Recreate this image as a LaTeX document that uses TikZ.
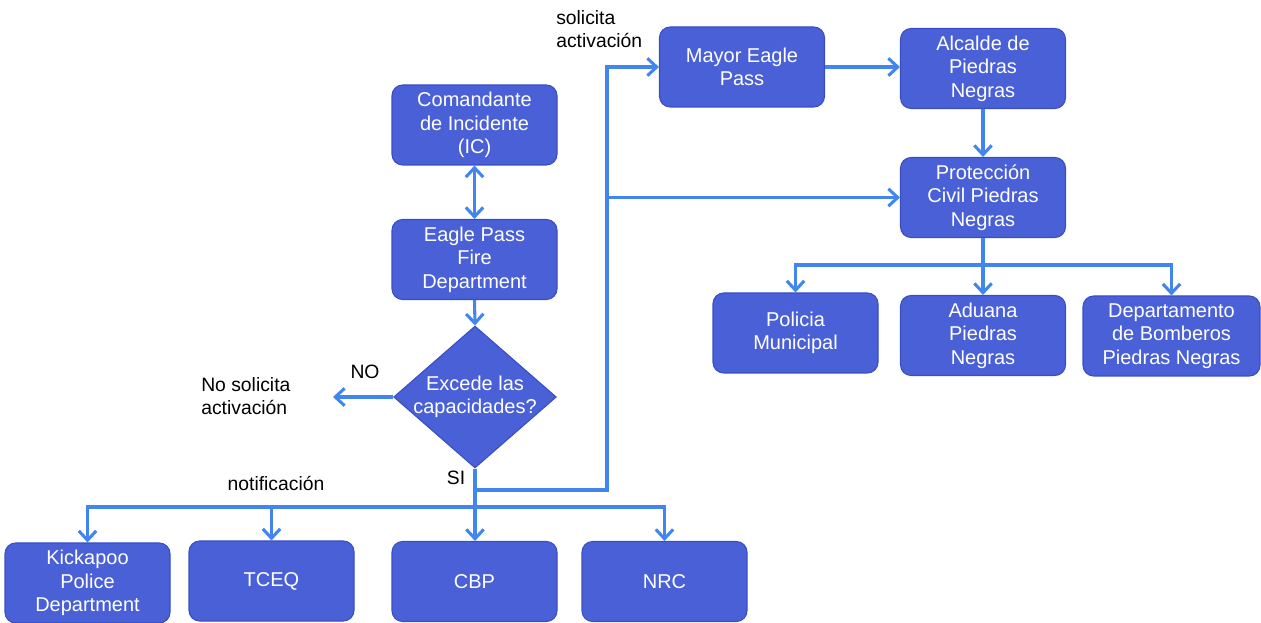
\documentclass[tikz,border=0pt]{standalone}
\usepackage{fontspec}
\setmainfont{Liberation Sans}
\usetikzlibrary{arrows.meta,shapes.geometric}
\definecolor{boxfill}{RGB}{74,96,214}
\definecolor{boxline}{RGB}{58,78,196}
\definecolor{lineblue}{RGB}{64,134,238}
\tikzset{
  box/.style={draw=boxline, line width=0.8pt, fill=boxfill, rounded corners=8pt,
    text=white, align=center, minimum width=123.75pt, minimum height=60pt,
    inner sep=2pt, font=\fontsize{15}{17.6}\selectfont},
  dec/.style={draw=boxline, line width=0.8pt, fill=boxfill, shape=diamond, aspect=1.15,
    text=white, align=center, minimum width=122pt, minimum height=106.5pt,
    inner sep=0pt, font=\fontsize{15}{17.6}\selectfont},
  lbl/.style={text=black, align=left, inner sep=0pt, font=\fontsize{14.5}{17.6}\selectfont},
  conn/.style={draw=lineblue, line width=2.3pt},
  arr/.style={conn, -{Straight Barb[length=7pt,width=13pt,line width=2.3pt]}},
  arrb/.style={conn, {Straight Barb[length=7pt,width=13pt,line width=2.3pt]}-{Straight Barb[length=7pt,width=13pt,line width=2.3pt]}}
}
\begin{document}
\begin{tikzpicture}[x=0.75pt,y=-0.75pt]
\useasboundingbox (0,0) rectangle (1261,623);
% boxes
\node[box] (ic) at (474.5,125) {Comandante\\de Incidente\\(IC)};
\node[box] (fire) at (474.5,259.5) {Eagle Pass\\Fire\\Department};
\node[dec] (d) at (475,397) {\makebox[0pt]{Excede las}\\\makebox[0pt]{capacidades?}};
\node[box] (mayor) at (742,67) {Mayor Eagle\\Pass};
\node[box] (alc) at (983,68.5) {Alcalde de\\Piedras\\Negras};
\node[box] (prot) at (983,197.5) {Protección\\Civil Piedras\\Negras};
\node[box] (pol) at (795.5,333) {Policia\\Municipal};
\node[box] (adu) at (983,335.5) {Aduana\\Piedras\\Negras};
\node[box, minimum width=132.75pt] (bom) at (1171.5,336) {Departamento\\de Bomberos\\Piedras Negras};
\node[box] (kick) at (87.5,583) {Kickapoo\\Police\\Department};
\node[box] (tceq) at (271.5,581) {TCEQ};
\node[box] (cbp) at (474.5,581.5) {CBP};
\node[box] (nrc) at (664.5,581.5) {NRC};
% labels
\node[lbl] (lno) at (365,372) {NO};
\node[lbl, anchor=west] (lnosol) at (201,396) {No solicita\\activación};
\node[lbl] (lsi) at (456,478) {SI};
\node[lbl] (lnot) at (276,483) {notificación};
\node[lbl, anchor=west] (lsol) at (556,29) {solicita\\activación};
% coordinates
\coordinate (noend) at (333,397);
\coordinate (sib) at (475,490);
\coordinate (riser) at (607,490);
\coordinate (bus) at (475,507);
\coordinate (pbus) at (983,265);
% connectors
\draw[arrb] (ic.south) -- (fire.north);
\draw[arr] (fire.south) -- (d.north);
\draw[arr] (d.west) -- (noend);
\draw[arr] (d.south) -- (d.south |- cbp.north);
\draw[arr] (bus) -| (kick.north);
\draw[arr] (bus) -| (tceq.north);
\draw[arr] (bus) -| (nrc.north);
\draw[arr] (sib) -- (riser) |- (mayor.west);
\draw[arr] (riser |- prot.west) -- (prot.west);
\draw[arr] (mayor.east) -- (mayor.east -| alc.west);
\draw[arr] (alc.south) -- (prot.north);
\draw[conn] (prot.south) -- (pbus);
\draw[arr] (pbus) -| (pol.north);
\draw[arr] (pbus) -- (adu.north);
\draw[arr] (pbus) -| (bom.north);
\end{tikzpicture}
\end{document}
